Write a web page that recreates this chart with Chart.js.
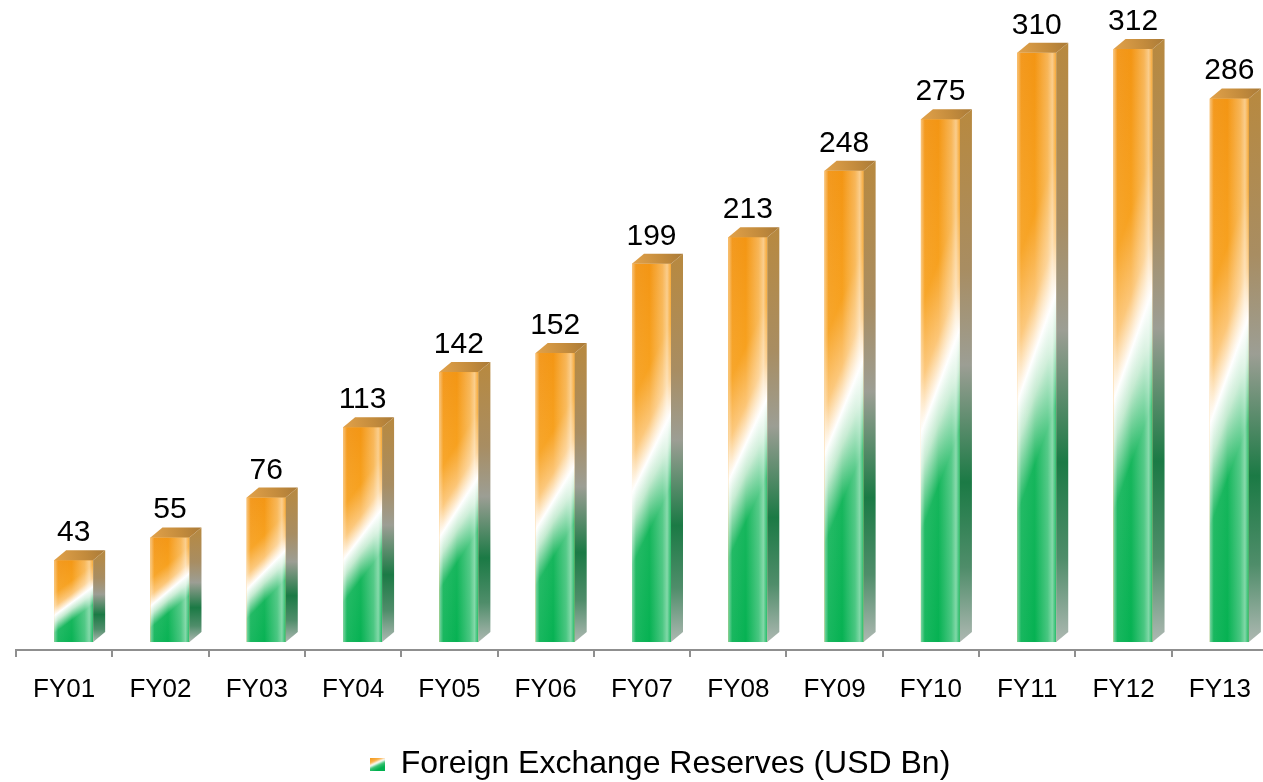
<!DOCTYPE html>
<html>
<head>
<meta charset="utf-8">
<script src="https://cdn.jsdelivr.net/npm/chart.js@4.4.1/dist/chart.umd.min.js"></script>
<style>
  html, body { margin: 0; padding: 0; background: #ffffff; overflow: hidden; }
  canvas { display: block; }
</style>
</head>
<body>
<canvas id="reserves" width="1272" height="782"></canvas>
<script>
// Fiscal years on the category axis
const categories = ['FY01', 'FY02', 'FY03', 'FY04', 'FY05', 'FY06', 'FY07',
                    'FY08', 'FY09', 'FY10', 'FY11', 'FY12', 'FY13'];
// Foreign exchange reserves, USD billion
const reserves = [43, 55, 76, 113, 142, 152, 199, 213, 248, 275, 310, 312, 286];
const seriesName = 'Foreign Exchange Reserves (USD Bn)';

const FONT = "'Liberation Sans', Arial, sans-serif";
const DEPTH_X = 12;   // 3D extrusion to the right
const DEPTH_Y = -10;  // 3D extrusion upwards
const LEGEND_SHIFT = 18;

// Tricolour front face: saffron on top, white band, green below, slanted
function paintFront(ctx, left, top, right, bottom) {
  const w = right - left, h = bottom - top;
  const rise = Math.min(0.17 * h + 15, 110);
  const k = rise / w;
  const d = (h + rise) / (1 + k * k);
  const g = ctx.createLinearGradient(left, top, left + d * k, top + d);
  g.addColorStop(0.00, '#f29210');
  g.addColorStop(0.30, '#f7a11f');
  g.addColorStop(0.42, '#fcc677');
  g.addColorStop(0.50, '#ffffff');
  g.addColorStop(0.56, '#c2eacf');
  g.addColorStop(0.66, '#16b65c');
  g.addColorStop(1.00, '#00b04f');
  ctx.fillStyle = g;
  ctx.fillRect(left, top, w, h);
  // glossy sheen across the face
  const s = ctx.createLinearGradient(left, 0, right, 0);
  s.addColorStop(0.00, 'rgba(255,255,255,0.45)');
  s.addColorStop(0.10, 'rgba(255,255,255,0.06)');
  s.addColorStop(0.45, 'rgba(255,255,255,0.0)');
  s.addColorStop(0.78, 'rgba(255,255,255,0.28)');
  s.addColorStop(0.90, 'rgba(255,255,255,0.50)');
  s.addColorStop(1.00, 'rgba(255,255,255,0.12)');
  ctx.fillStyle = s;
  ctx.fillRect(left, top, w, h);
}

function paintSide(ctx, right, top, bottom) {
  const g = ctx.createLinearGradient(0, top + DEPTH_Y, 0, bottom);
  g.addColorStop(0.00, '#b8893f');
  g.addColorStop(0.30, '#a88d62');
  g.addColorStop(0.48, '#9c9e94');
  g.addColorStop(0.70, '#1b7a45');
  g.addColorStop(0.86, '#4f8d6a');
  g.addColorStop(1.00, '#aeb8b2');
  ctx.fillStyle = g;
  ctx.beginPath();
  ctx.moveTo(right, top);
  ctx.lineTo(right + DEPTH_X, top + DEPTH_Y);
  ctx.lineTo(right + DEPTH_X, bottom + DEPTH_Y);
  ctx.lineTo(right, bottom);
  ctx.closePath();
  ctx.fill();
}

function paintTop(ctx, left, right, top) {
  const g = ctx.createLinearGradient(left, top, right + DEPTH_X, top + DEPTH_Y);
  g.addColorStop(0.0, '#e2a24a');
  g.addColorStop(0.6, '#c38b3c');
  g.addColorStop(1.0, '#a97a38');
  ctx.fillStyle = g;
  ctx.beginPath();
  ctx.moveTo(left, top);
  ctx.lineTo(left + DEPTH_X, top + DEPTH_Y);
  ctx.lineTo(right + DEPTH_X, top + DEPTH_Y);
  ctx.lineTo(right, top);
  ctx.closePath();
  ctx.fill();
}

// Shaded 3D columns and value labels, built on each bar element's geometry
const columns3d = {
  id: 'columns3d',
  afterLayout(chart) {
    // nudge the legend to the right of the canvas centre
    if (chart.legend) {
      chart.legend.left += LEGEND_SHIFT;
      chart.legend.right += LEGEND_SHIFT;
    }
  },
  afterDatasetsDraw(chart) {
    const ctx = chart.ctx;
    const meta = chart.getDatasetMeta(1);
    ctx.save();
    meta.data.forEach((bar, i) => {
      const { x, y, base, width } = bar.getProps(['x', 'y', 'base', 'width'], true);
      const left = x - width / 2, right = x + width / 2;
      paintFront(ctx, left, y, right, base);
      paintSide(ctx, right, y, base);
      paintTop(ctx, left, right, y);
      ctx.fillStyle = '#000000';
      ctx.font = '30px ' + FONT;
      ctx.textAlign = 'center';
      ctx.textBaseline = 'alphabetic';
      ctx.fillText(String(reserves[i]), x, y - 19);
    });
    ctx.restore();
  }
};

// Small tricolour swatch for the legend
const swatch = document.createElement('canvas');
swatch.width = 15; swatch.height = 13;
(function () {
  const c = swatch.getContext('2d');
  const g = c.createLinearGradient(0, 0, 6, 13);
  g.addColorStop(0.0, '#f39512');
  g.addColorStop(0.35, '#f9b04a');
  g.addColorStop(0.55, '#ffffff');
  g.addColorStop(0.75, '#3cc274');
  g.addColorStop(1.0, '#00b04f');
  c.fillStyle = g;
  c.fillRect(0, 0, 15, 13);
})();

new Chart(document.getElementById('reserves'), {
  type: 'bar',
  data: {
    labels: categories,
    datasets: [
      { label: 'depth', data: categories.map(() => null) },
      {
        label: seriesName,
        data: reserves,
        backgroundColor: '#f7a11f',
        borderWidth: 0
      }
    ]
  },
  options: {
    responsive: false,
    animation: false,
    devicePixelRatio: 1,
    categoryPercentage: 0.3946,
    barPercentage: 2.053,
    layout: { padding: { left: 16, right: 4, top: 11, bottom: -8 } },
    plugins: {
      tooltip: { enabled: false },
      legend: {
        position: 'bottom',
        labels: {
          usePointStyle: true,
          boxWidth: 15,
          boxHeight: 13,
          padding: 10,
          color: '#000000',
          font: { family: FONT, size: 32 },
          generateLabels: () => [{
            text: seriesName,
            pointStyle: swatch,
            fillStyle: '#f7a11f',
            strokeStyle: 'transparent',
            lineWidth: 0,
            hidden: false,
            datasetIndex: 1
          }]
        }
      }
    },
    scales: {
      x: {
        grid: {
          display: true,
          offset: true,
          drawOnChartArea: false,
          drawTicks: true,
          tickLength: 7,
          color: '#8f8f8f',
          lineWidth: 2
        },
        border: { display: true, color: '#8f8f8f', width: 2 },
        ticks: {
          color: '#000000',
          font: { family: FONT, size: 26 },
          padding: 17,
          maxRotation: 0,
          autoSkip: false
        },
        afterFit: (scale) => { scale.height = 88; }
      },
      y: {
        display: false,
        min: -4.2,
        max: 332
      }
    }
  },
  plugins: [columns3d]
});
</script>
</body>
</html>
